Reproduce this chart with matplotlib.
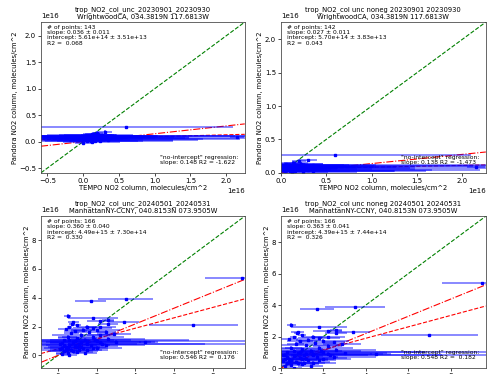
import matplotlib
matplotlib.use("Agg")
import matplotlib.pyplot as plt
import numpy as np

# WrightwoodCA, units of 1e16 molecules/cm^2: x, y, xerr, yerr
ww_x = np.array([0.60, 0.30, 0.20, 0.15, 0.10, 0.22, 0.05, 0.12, 0.25, 0.08, 2.15, 0.18,
                 0.03, 0.28, 0.14, 0.01, 0.07, 0.20, 0.10, 0.35, 0.05, 0.16, 0.00, 0.24,
                 0.12, 0.09, 0.19, 0.04, 0.26, 0.13, 0.32, 0.02, 0.17, 0.30, 0.06, 0.21,
                 0.10, 0.20, 0.05, 0.15, 0.25, 0.08, 0.30, 0.02, 0.12, 0.18, 0.22, 0.11,
                 0.27, 0.06, 0.35])
ww_y = np.array([0.27, 0.19, 0.17, 0.15, 0.12, 0.13, 0.11, 0.10, 0.09, 0.08, 0.08, 0.07,
                 0.06, 0.06, 0.05, 0.05, 0.04, 0.04, 0.03, 0.03, 0.02, 0.02, -0.02, 0.01,
                 0.00, 0.09, 0.11, 0.07, 0.12, 0.14, 0.08, 0.10, 0.10, 0.07, 0.13, 0.05,
                 0.06, 0.08, 0.09, 0.03, 0.11, 0.12, 0.04, 0.08, 0.07, 0.10, 0.06, 0.02,
                 0.09, 0.05, 0.11])
ww_xerr = np.array([1.50, 0.10, 0.08, 0.15, 0.60, 0.25, 1.00, 2.00, 0.80, 1.40, 0.10, 0.45,
                    0.30, 1.20, 0.70, 0.20, 1.60, 0.35, 0.55, 0.90, 0.25, 1.10, 0.12, 0.60,
                    0.40, 0.30, 0.20, 0.50, 0.15, 0.10, 0.50, 0.70, 2.20, 2.10, 0.40, 0.20,
                    0.90, 0.65, 0.55, 1.45, 0.50, 0.35, 1.90, 0.75, 1.30, 0.85, 0.40, 0.65,
                    1.00, 0.45, 2.00])
ww_yerr = np.array([0.01, 0.02, 0.03, 0.03, 0.02, 0.03, 0.02, 0.01, 0.02, 0.01, 0.01, 0.02,
                    0.02, 0.01, 0.02, 0.02, 0.01, 0.01, 0.02, 0.01, 0.01, 0.01, 0.01, 0.02,
                    0.01, 0.02, 0.02, 0.01, 0.02, 0.03, 0.01, 0.01, 0.01, 0.01, 0.02, 0.02,
                    0.02, 0.02, 0.02, 0.01, 0.02, 0.02, 0.01, 0.01, 0.02, 0.02, 0.01, 0.01,
                    0.02, 0.01, 0.01])

# ManhattanNY-CCNY
mh_x = np.array([9.5, 7.0, 3.5, 1.7, 0.5, 1.8, 2.6, 2.2, 3.4, 0.8, 0.75, 2.6, 1.0, 1.5,
                 0.6, 2.2, 1.8, 0.4, 1.3, 2.0, 0.9, 2.5, 1.6, 0.7, 2.9, 1.2, 2.2, 0.5,
                 1.8, 1.0, 2.6, 1.4, 0.3, 2.0, 0.8, 3.0, 4.5, 1.5, 0.2, 1.1, 2.3, 0.6,
                 1.7, 0.9, 0.4, 2.0, 1.3, 0.1, 0.7, 1.5, 0.3, 1.0, 0.5, 0.2, 0.6, 1.2,
                 0.5, 1.0, 1.5, 0.3, 2.5, 0.8, 1.2, 0.4, 1.8, 0.6, 1.1, 0.2, 2.2, 1.4,
                 0.9, 0.1, 1.9])
mh_y = np.array([5.4, 2.1, 3.9, 3.75, 2.75, 2.6, 2.45, 2.38, 2.3, 2.3, 2.2, 2.2, 2.1, 2.0,
                 2.0, 2.0, 1.9, 1.85, 1.8, 1.75, 1.7, 1.65, 1.6, 1.55, 1.5, 1.45, 1.4, 1.3,
                 1.3, 1.2, 1.15, 1.1, 1.05, 1.0, 0.95, 0.95, 0.9, 0.9, 0.85, 0.8, 0.8, 0.75,
                 0.7, 0.65, 0.6, 0.55, 0.5, 0.45, 0.4, 0.35, 0.3, 0.25, 0.2, 0.1, 0.0, 0.6,
                 0.5, 0.6, 0.8, 0.7, 0.7, 0.3, 0.9, 0.4, 0.5, 1.1, 0.35, 0.55, 0.9, 0.15,
                 1.0, 0.8, 1.1])
mh_xerr = np.array([1.9, 2.3, 1.4, 0.8, 0.2, 1.3, 0.3, 0.7, 0.8, 0.3, 0.15, 0.5, 0.2, 0.5,
                    0.15, 0.8, 1.0, 0.4, 0.6, 1.2, 0.6, 0.5, 0.9, 0.4, 0.9, 1.5, 0.7, 0.5,
                    1.6, 1.0, 1.9, 2.4, 6.5, 7.7, 1.2, 2.0, 0.3, 2.8, 0.6, 8.6, 1.8, 1.4,
                    1.0, 2.2, 0.8, 1.3, 0.9, 0.5, 1.6, 1.1, 0.7, 0.8, 0.6, 0.3, 0.4, 1.0,
                    1.2, 1.5, 1.0, 0.9, 2.0, 1.3, 1.8, 0.6, 0.8, 1.0, 0.7, 1.1, 3.0, 0.6,
                    0.5, 7.5, 1.0])
mh_yerr = np.array([0.05, 0.05, 0.05, 0.05, 0.1, 0.05, 0.05, 0.05, 0.05, 0.05, 0.05, 0.05,
                    0.05, 0.1, 0.05, 0.05, 0.1, 0.05, 0.1, 0.1, 0.1, 0.1, 0.1, 0.1, 0.1,
                    0.1, 0.1, 0.1, 0.1, 0.1, 0.1, 0.1, 0.05, 0.05, 0.1, 0.1, 0.05, 0.1,
                    0.1, 0.05, 0.1, 0.1, 0.1, 0.1, 0.1, 0.1, 0.1, 0.1, 0.1, 0.1, 0.1, 0.1,
                    0.1, 0.1, 0.05, 0.1, 0.1, 0.1, 0.1, 0.1, 0.1, 0.1, 0.1, 0.1, 0.1, 0.1,
                    0.1, 0.1, 0.1, 0.1, 0.1, 0.05, 0.1])

titles = ["trop_NO2_col_unc_20230901_20230930\nWrightwoodCA, 034.3819N 117.6813W",
          "trop_NO2_col unc noneg 20230901 20230930\nWrightwoodCA, 034.3819N 117.6813W",
          "trop_NO2_col_unc_20240501_20240531\nManhattanNY-CCNY, 040.8153N 073.9505W",
          "trop_NO2_col unc noneg 20240501 20240531\nManhattanNY-CCNY, 040.8153N 073.9505W"]
n_points = [143, 142, 166, 166]
slopes = [0.036, 0.027, 0.360, 0.363]
slope_errs = [0.011, 0.011, 0.040, 0.041]
intercepts = [5.61e14, 5.70e14, 4.49e15, 4.39e15]
intercept_errs = [3.51e13, 3.83e13, 7.30e14, 7.44e14]
r2s = [0.068, 0.043, 0.330, 0.326]
ni_slopes = [0.148, 0.138, 0.546, 0.548]
ni_r2s = [-1.622, -1.473, 0.176, 0.182]
limits = [(-0.59, 2.26), (0.0, 2.26), (-0.87, 9.66), (0.0, 9.66)]
ticks = [[-0.5, 0, 0.5, 1.0, 1.5, 2.0], [0, 0.5, 1.0, 1.5, 2.0],
         [0, 2, 4, 6, 8], [0, 2, 4, 6, 8]]

positions = [[0.0835, 0.538, 0.415, 0.403], [0.572, 0.538, 0.4175, 0.403],
             [0.0835, 0.016, 0.415, 0.406], [0.572, 0.016, 0.4175, 0.406]]

fig = plt.figure(figsize=(4.91, 3.74), dpi=100)

for i in range(4):
    if i < 2:
        x, y, xe, ye = ww_x, ww_y, ww_xerr, ww_yerr
    else:
        x, y, xe, ye = mh_x, mh_y, mh_xerr, mh_yerr
    if i % 2 == 1:
        keep = (x >= 0) & (y >= 0)
        x, y, xe, ye = x[keep], y[keep], xe[keep], ye[keep]
    x, y, xe, ye = x * 1e16, y * 1e16, xe * 1e16, ye * 1e16

    ax = fig.add_axes(positions[i])
    lo, hi = limits[i][0] * 1e16, limits[i][1] * 1e16
    xx = np.linspace(lo, hi, 50)
    ax.plot(xx, xx, "g--", lw=0.8)
    ax.plot(xx, slopes[i] * xx + intercepts[i], "r--", lw=0.8)
    ax.plot(xx, ni_slopes[i] * xx, "r-.", lw=0.8)
    ax.errorbar(x, y, xerr=xe, yerr=ye, fmt="none", ecolor="blue", alpha=0.5, elinewidth=1.3)
    ax.plot(x, y, "bs", markersize=1.5)
    ax.set_xlim(lo, hi)
    ax.set_ylim(lo, hi)
    ax.set_xticks(np.array(ticks[i]) * 1e16)
    ax.set_yticks(np.array(ticks[i]) * 1e16)
    ax.tick_params(labelsize=5, length=2, width=0.5, pad=1.5)
    ax.xaxis.get_offset_text().set_fontsize(5)
    ax.yaxis.get_offset_text().set_fontsize(5)
    for s in ax.spines.values():
        s.set_linewidth(0.6)
        s.set_color("0.3")
    ax.set_title(titles[i], fontsize=4.9, pad=2, linespacing=1.3)
    ax.set_xlabel("TEMPO NO2 column, molecules/cm^2", fontsize=4.9, labelpad=1)
    ax.set_ylabel("Pandora NO2 column, molecules/cm^2", fontsize=4.9, labelpad=1)
    txt = ("# of points: %d\nslope: %.3f \u00b1 %.3f\nintercept: %.2e \u00b1 %.2e\nR2 =  %.3f"
           % (n_points[i], slopes[i], slope_errs[i], intercepts[i], intercept_errs[i], r2s[i]))
    ax.text(0.03, 0.98, txt, transform=ax.transAxes, fontsize=4.3, va="top", ha="left",
            linespacing=1.05)
    txt2 = '"no-intercept" regression:\nslope: %.3f R2 = %6.3f' % (ni_slopes[i], ni_r2s[i])
    ax.text(0.97, 0.05, txt2, transform=ax.transAxes, fontsize=4.3, va="bottom", ha="right",
            multialignment="left", linespacing=1.05)

fig.savefig("out.png", dpi=100)
